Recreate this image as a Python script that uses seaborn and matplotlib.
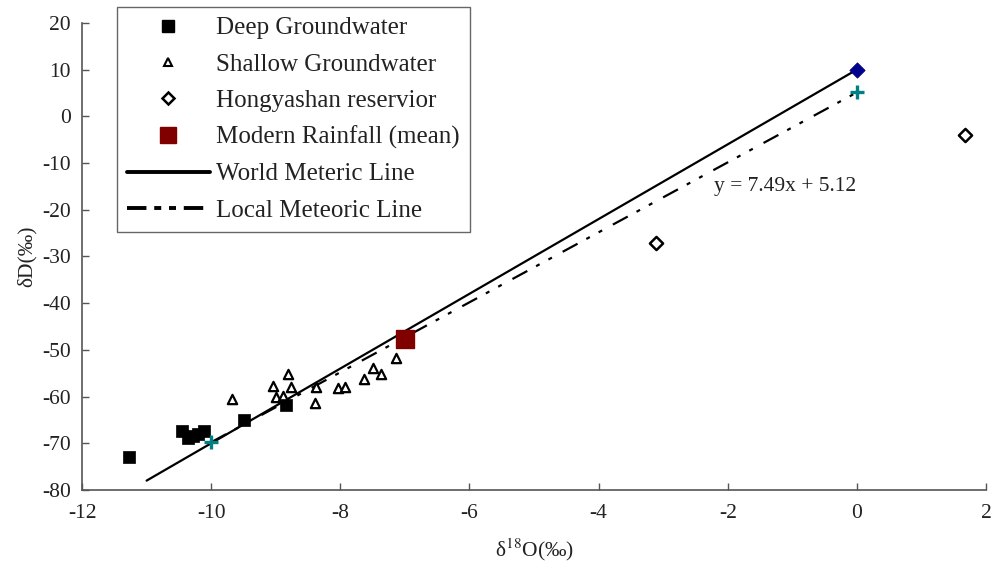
import numpy as np
import pandas as pd
import matplotlib
matplotlib.use('Agg')
import matplotlib.pyplot as plt
import seaborn as sns
from matplotlib.lines import Line2D

# Deep groundwater (filled black squares)
deep_o = [-11.27, -10.45, -10.36, -10.28, -10.20, -10.11, -9.49, -8.84]
deep_d = [-72.9, -67.4, -68.9, -68.4, -68.0, -67.4, -65.0, -61.8]

# Shallow groundwater (open triangles)
shallow_o = [-9.67, -9.05, -8.81, -8.77, -8.99, -8.88, -8.37, -8.39, -8.03, -7.92,
             -7.63, -7.50, -7.37, -7.13]
shallow_d = [-60.5, -57.7, -55.2, -58.0, -60.0, -59.9, -57.9, -61.4, -58.2, -58.0,
             -56.3, -53.8, -55.2, -51.7]

# Hongyashan reservoir (open diamonds)
res_o = [-3.11, 1.68]
res_d = [-27.1, -4.0]

# Modern rainfall mean
rain_o = [-7.0]
rain_d = [-47.7]

# Meteoric lines (end points)
wml_o = [-11.0, 0.0]
wml_d = [-78.0, 10.0]
lml_o = [-10.0, 0.0]
lml_d = [-69.78, 5.12]

sns.set_style('ticks')
plt.rcParams['font.family'] = ['Liberation Serif', 'DejaVu Serif']
plt.rcParams['mathtext.fontset'] = 'stix'
plt.rcParams['axes.unicode_minus'] = False

fig = plt.figure(figsize=(9.93, 5.72), dpi=100)
ax = fig.add_axes([0.0826, 0.1434, 0.9104, 0.8166])

spine_col = '#555555'
lml_dash = [7.6, 4.5, 1.8, 4.5, 1.8, 5.5]

sns.lineplot(x=wml_o, y=wml_d, estimator=None, sort=False, color='black', linewidth=1.6, ax=ax)
sns.lineplot(x=lml_o, y=lml_d, estimator=None, sort=False, color='black', linewidth=1.6,
             ax=ax).lines[-1].set_dashes(lml_dash)

sns.scatterplot(x=shallow_o, y=shallow_d, marker='^', s=45, facecolor='white',
                edgecolor='black', linewidth=1.6, ax=ax, zorder=3)
sns.scatterplot(x=deep_o, y=deep_d, marker='s', s=80, color='black',
                edgecolor='black', linewidth=0.5, ax=ax, zorder=4)
sns.scatterplot(x=res_o, y=res_d, marker='D', s=45, facecolor='white',
                edgecolor='black', linewidth=1.8, ax=ax, zorder=3)
sns.scatterplot(x=rain_o, y=rain_d, marker='s', s=150, color='#800000',
                edgecolor='#800000', ax=ax, zorder=5)

# end markers of the meteoric lines
sns.scatterplot(x=[wml_o[1]], y=[wml_d[1]], marker='D', s=60, color='#00008b',
                edgecolor='#00008b', ax=ax, zorder=5)
sns.scatterplot(x=[lml_o[0], lml_o[1]], y=[lml_d[0], lml_d[1]], marker='+', s=110,
                color='#008080', linewidth=2.4, ax=ax, zorder=5)

ax.text(-2.21, -15.1, 'y = 7.49x + 5.12', ha='left', va='center', fontsize=15.5, color='#222222')

ax.set_xlim(-12, 2)
ax.set_ylim(-80, 20)
ax.set_xticks(np.arange(-12, 3, 2))
ax.set_yticks(np.arange(-80, 21, 10))
ax.tick_params(direction='in', length=5, width=1, color=spine_col, labelsize=15.5,
               labelcolor='#222222')
ax.tick_params(axis='x', pad=10)
ax.tick_params(axis='y', pad=8)
for s in ['top', 'right']:
    ax.spines[s].set_visible(False)
for s in ['left', 'bottom']:
    ax.spines[s].set_color(spine_col)
    ax.spines[s].set_linewidth(1.2)

ax.set_xlabel(r'δ$^{18}$O(‰)', fontsize=15.5, color='#222222', labelpad=10)
ax.set_ylabel('δD(‰)', fontsize=15.5, color='#222222', labelpad=4)

handles = [
    Line2D([], [], linestyle='none', marker='s', markersize=8, color='black'),
    Line2D([], [], linestyle='none', marker='^', markersize=5.5, markerfacecolor='white',
           markeredgecolor='black', markeredgewidth=1.5),
    Line2D([], [], linestyle='none', marker='D', markersize=6.5, markerfacecolor='white',
           markeredgecolor='black', markeredgewidth=1.8),
    Line2D([], [], linestyle='none', marker='s', markersize=12, color='#800000'),
    Line2D([], [], color='black', linewidth=2.8),
    Line2D([], [], color='black', linewidth=2.8, dashes=[5, 2, 1.8, 2, 1.8, 2]),
]
labels = ['Deep Groundwater', 'Shallow Groundwater', 'Hongyashan reservior',
          'Modern Rainfall (mean)', 'World Meteric Line', 'Local Meteoric Line']
leg = fig.legend(handles, labels, loc='upper left', bbox_to_anchor=(0.118, 0.988),
                 frameon=True, fancybox=False, framealpha=1, edgecolor='#666666',
                 fontsize=18, handlelength=3.3, handletextpad=0.25, labelspacing=0.55,
                 borderpad=0.4, borderaxespad=0)
leg.get_frame().set_linewidth(1.0)
for t in leg.get_texts():
    t.set_color('#222222')

fig.savefig('out.png', dpi=100)
